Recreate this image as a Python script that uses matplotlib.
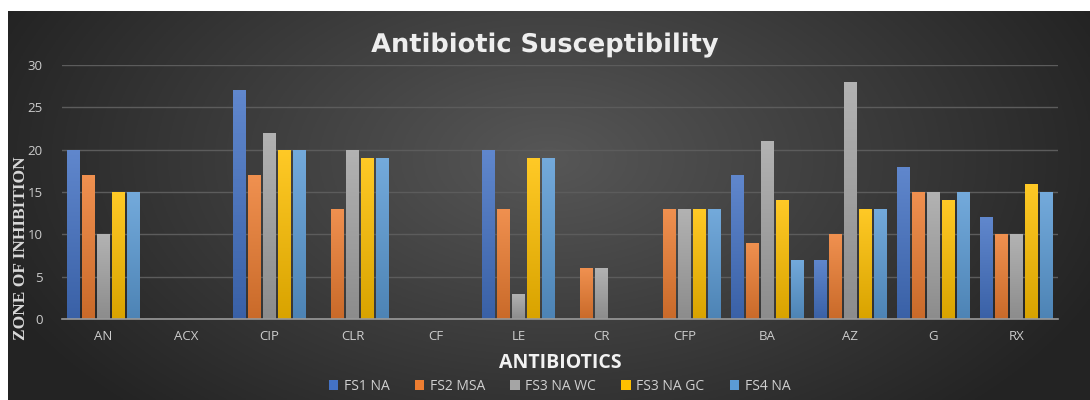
import numpy as np
import matplotlib.pyplot as plt
import matplotlib.patheffects as pe
from matplotlib.colors import to_rgb

# Data
antibiotics = ['AN', 'ACX', 'CIP', 'CLR', 'CF', 'LE', 'CR', 'CFP', 'BA', 'AZ', 'G', 'RX']
fs1_na = [20, 0, 27, 0, 0, 20, 0, 0, 17, 7, 18, 12]
fs2_msa = [17, 0, 17, 13, 0, 13, 6, 13, 9, 10, 15, 10]
fs3_na_wc = [10, 0, 22, 20, 0, 3, 6, 13, 21, 28, 15, 10]
fs3_na_gc = [15, 0, 20, 19, 0, 19, 0, 13, 14, 13, 14, 16]
fs4_na = [15, 0, 20, 19, 0, 19, 0, 13, 7, 13, 15, 15]

series = [
    ('FS1 NA', fs1_na, '#4472C4'),
    ('FS2 MSA', fs2_msa, '#ED7D31'),
    ('FS3 NA WC', fs3_na_wc, '#A5A5A5'),
    ('FS3 NA GC', fs3_na_gc, '#FFC000'),
    ('FS4 NA', fs4_na, '#5B9BD5'),
]

fig = plt.figure(figsize=(10.9, 4.0), dpi=100)
fig.patch.set_facecolor('white')

# dark radial gradient background (white strip top and left)
bg = fig.add_axes([8 / 1090, 0, 1 - 8 / 1090, 1 - 11 / 400])
yy, xx = np.mgrid[0:1:200j, 0:1:500j]
r = np.sqrt(((xx - 0.5) / 0.55) ** 2 + ((yy - 0.62) / 0.9) ** 2)
shade = np.clip(0.34 - 0.2 * r, 0.14, 0.34)
bg.imshow(np.dstack([shade] * 3), aspect='auto', extent=[0, 1, 0, 1], origin='lower')
bg.set_axis_off()

ax = fig.add_axes([62 / 1090, 1 - 319 / 400, (1058 - 62) / 1090, (319 - 65) / 400])
ax.patch.set_alpha(0)

x = np.arange(len(antibiotics))
pitch = 0.18
width = 0.155
grad = np.linspace(0, 1, 64).reshape(-1, 1)
for i, (name, vals, color) in enumerate(series):
    bars = ax.bar(x + (i - 2) * pitch, vals, width, color=color, label=name, zorder=3)
    # vertical shading like the original's bar fill
    c = np.array(to_rgb(color))
    top = c + (1 - c) * 0.15
    bot = c * 0.85
    cmap_img = bot + (top - bot) * grad[:, :, None]
    for b in bars:
        h = b.get_height()
        if h <= 0:
            continue
        bx = b.get_x()
        im = ax.imshow(cmap_img, aspect='auto', origin='lower', zorder=3.5,
                       extent=[bx, bx + b.get_width(), 0, h])
        im.set_clip_path(b)

ax.set_xlim(-0.5, len(antibiotics) - 0.5)
ax.set_ylim(0, 30)
ax.set_aspect('auto')
ax.set_yticks(range(0, 31, 5))
ax.set_xticks(x)
ax.set_xticklabels(antibiotics)
ax.grid(axis='y', color='#5c5c5c', linewidth=1, zorder=0)
ax.tick_params(length=0, colors='#cccccc', labelsize=9.5)
ax.tick_params(axis='y', pad=14)
ax.tick_params(axis='x', pad=8)
for lbl in ax.get_xticklabels() + ax.get_yticklabels():
    lbl.set_family('Open Sans')
for s in ['top', 'right', 'left']:
    ax.spines[s].set_visible(False)
ax.spines['bottom'].set_color('#9a9a9a')
ax.spines['bottom'].set_linewidth(1.2)
ax.spines['bottom'].set_zorder(4)

fig.text(0.5, 1 - 45 / 400, 'Antibiotic Susceptibility', ha='center', va='center',
         fontsize=18.5, fontweight='bold', family='DejaVu Sans', color='#eeeeee',
         path_effects=[pe.withSimplePatchShadow(offset=(1.5, -1.5), alpha=0.6)])
fig.text(560 / 1090, 1 - 363 / 400, 'ANTIBIOTICS', ha='center', va='center',
         fontsize=14, fontweight='bold', family='Open Sans', color='#f2f2f2')
fig.text(21 / 1090, 1 - 248 / 400, 'ZONE OF INHIBITION', ha='center', va='center',
         rotation=90, fontsize=12.5, fontweight='bold', family='Liberation Serif', color='#d9d9d9')

leg = fig.legend(loc='center', bbox_to_anchor=(559.5 / 1090, 1 - 386 / 400), ncol=5, frameon=False,
                 handlelength=0.7, handleheight=0.7, handletextpad=0.4,
                 columnspacing=1.8, prop={'family': 'Open Sans', 'size': 10})
for t in leg.get_texts():
    t.set_color('#d0d0d0')

fig.savefig('out.png', dpi=100, facecolor=fig.get_facecolor())
